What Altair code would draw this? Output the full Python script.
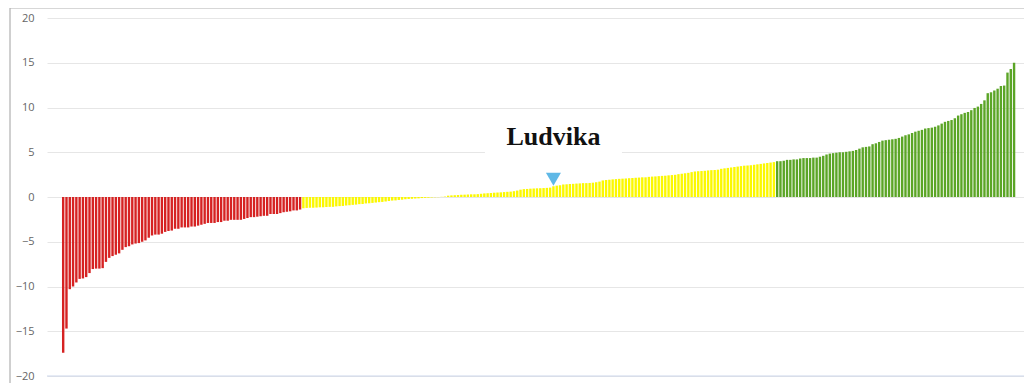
import altair as alt
import pandas as pd

# Sorted municipality values, split by colour group (bottom quarter, middle, top quarter)
red_values = [
    -17.4, -14.7, -10.3, -10.0, -9.55, -9.15, -9.1, -8.95, -8.5, -8.05,
    -8.0, -8.0, -7.95, -7.25, -6.8, -6.6, -6.45, -6.3, -5.9, -5.6,
    -5.5, -5.3, -5.2, -5.15, -5.0, -4.85, -4.55, -4.3, -4.2, -4.2,
    -4.1, -3.9, -3.8, -3.75, -3.55, -3.55, -3.4, -3.4, -3.4, -3.3,
    -3.3, -3.2, -3.1, -3.0, -2.9, -2.9, -2.9, -2.8, -2.8, -2.65,
    -2.65, -2.55, -2.55, -2.55, -2.55, -2.45, -2.35, -2.25, -2.25, -2.2,
    -2.15, -2.1, -2.1, -1.9, -1.9, -1.9, -1.8, -1.7, -1.65, -1.6,
    -1.5, -1.5, -1.4,
]
yellow_values = [
    -1.25, -1.22, -1.2, -1.2, -1.18, -1.15, -1.15, -1.12, -1.1, -1.1,
    -1.05, -1.02, -1.0, -0.95, -0.92, -0.88, -0.85, -0.8, -0.78, -0.72,
    -0.7, -0.66, -0.62, -0.58, -0.55, -0.5, -0.45, -0.4, -0.38, -0.33,
    -0.3, -0.25, -0.22, -0.2, -0.17, -0.15, -0.12, -0.1, -0.08, -0.05,
    -0.03, -0.02, 0.02, 0.05,
    0.15, 0.18, 0.2, 0.22, 0.25, 0.26, 0.28, 0.3, 0.3, 0.32,
    0.36, 0.4, 0.42, 0.45, 0.48, 0.5, 0.52, 0.55, 0.58, 0.6,
    0.65, 0.72, 0.82, 0.88, 0.9, 0.93, 0.95, 0.97, 0.98, 1.0,
    1.02, 1.05, 1.2, 1.27, 1.3, 1.4, 1.42, 1.45, 1.47, 1.5,
    1.52, 1.55, 1.55, 1.57, 1.6, 1.65, 1.72, 1.85, 1.9, 1.93,
    1.97, 2.0, 2.03, 2.05, 2.07, 2.1, 2.12, 2.15, 2.17, 2.2,
    2.2, 2.25, 2.28, 2.3, 2.33, 2.36, 2.38, 2.42, 2.45, 2.48,
    2.55, 2.6, 2.65, 2.7, 2.78, 2.85, 2.88, 2.9, 2.93, 2.97,
    3.0, 3.02, 3.05, 3.15, 3.2, 3.25, 3.3, 3.35, 3.4, 3.45,
    3.5, 3.52, 3.55, 3.6, 3.65, 3.7, 3.75, 3.8, 3.85, 3.9,
]
green_values = [
    4.0, 4.0, 4.05, 4.15, 4.15, 4.2, 4.2, 4.3, 4.35, 4.35,
    4.35, 4.4, 4.4, 4.5, 4.6, 4.75, 4.85, 4.9, 4.95, 5.0,
    5.0, 5.05, 5.1, 5.15, 5.25, 5.4, 5.55, 5.6, 5.65, 5.9,
    6.0, 6.15, 6.3, 6.35, 6.4, 6.45, 6.5, 6.6, 6.75, 6.9,
    7.0, 7.15, 7.3, 7.4, 7.5, 7.65, 7.7, 7.75, 7.85, 8.0,
    8.2, 8.4, 8.5, 8.6, 8.8, 9.1, 9.25, 9.4, 9.5, 9.7,
    9.95, 10.1, 10.4, 10.8, 11.6, 11.7, 11.9, 12.1, 12.4, 12.45,
    13.9, 14.3, 15.0,
]
group_names = ["low", "mid", "high"]
group_colors = ["#d62222", "#fbf800", "#5ba526"]
highlight_name = "Ludvika"
highlight_rank = 149
y_ticks = [-20, -15, -10, -5, 0, 5, 10, 15, 20]
y_min, y_max = -20, 20

values = red_values + yellow_values + green_values
groups = (["low"] * len(red_values) + ["mid"] * len(yellow_values)
          + ["high"] * len(green_values))
df = pd.DataFrame({"rank": list(range(len(values))), "value": values, "group": groups})
hl = df[df["rank"] == highlight_rank].copy()
hl["name"] = highlight_name

x_scale = alt.Scale(domain=[-3.4, 290.5], nice=False, zero=False)
y_scale = alt.Scale(domain=[y_min, y_max], nice=False, zero=False)
y_enc = alt.Y("value:Q", title=None, scale=y_scale,
              axis=alt.Axis(values=y_ticks, domain=False, ticks=False, grid=True,
                            gridColor="#e6e6e6", gridWidth=1,
                            labelColor="#666666", labelFont="Open Sans",
                            labelFontSize=11, labelPadding=13))

bars = alt.Chart(df).mark_bar(strokeWidth=0, width=2.4).encode(
    x=alt.X("rank:Q", axis=None, scale=x_scale),
    y=y_enc,
    color=alt.Color("group:N", legend=None,
                    scale=alt.Scale(domain=group_names, range=group_colors)),
)

frame_src = pd.DataFrame({"k": [0]})
base_line = alt.Chart(frame_src).mark_rule(color="#ccd6eb", strokeWidth=1).encode(
    y=alt.datum(y_min))

label_bg = alt.Chart(hl).mark_point(
    shape="M-1,-0.3L1,-0.3L1,0.3L-1,0.3Z", size=137 * 137, filled=True,
    fill="white", opacity=1, strokeWidth=0, yOffset=-44,
).encode(x="rank:Q", y="value:Q")

marker = alt.Chart(hl).mark_point(
    shape="triangle-down", size=225, filled=True, fill="#5fb8e6",
    opacity=1, strokeWidth=0, yOffset=-7,
).encode(x="rank:Q", y="value:Q")

label = alt.Chart(hl).mark_text(
    font="Liberation Serif", fontSize=26, fontWeight="bold", color="#111111",
    align="center", baseline="alphabetic", dy=-41,
).encode(x="rank:Q", y="value:Q", text="name:N")

frame_left = alt.Chart(frame_src).mark_rule(color="#a0a0a0", strokeWidth=1).encode(
    x=alt.value(-37), y=alt.value(-10), y2=alt.value(370))
frame_top = alt.Chart(frame_src).mark_rule(color="#b0b0b0", strokeWidth=1).encode(
    x=alt.value(-37), x2=alt.value(977), y=alt.value(-10))

chart = alt.layer(bars, base_line, label_bg, marker, label, frame_left, frame_top).properties(
    width=977, height=358,
    padding={"left": 39, "top": 10, "right": 0, "bottom": 7},
    autosize="none",
).configure_view(strokeWidth=0)

chart.save("out.html", embed_options={"renderer": "svg", "actions": False})
